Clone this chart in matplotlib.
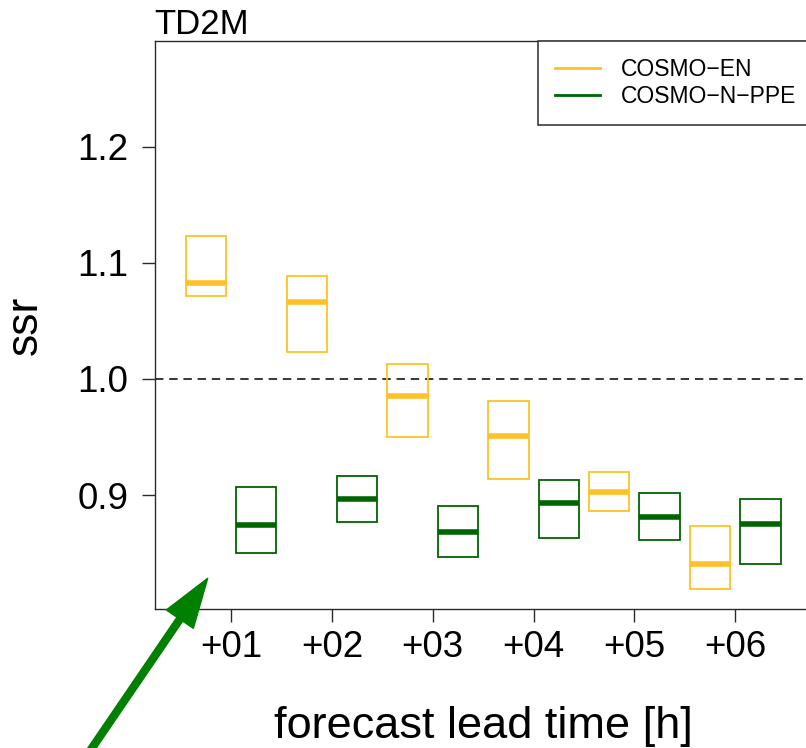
import matplotlib
matplotlib.use("Agg")
import matplotlib.pyplot as plt
from matplotlib.patches import FancyArrowPatch

plt.rcParams['font.family'] = ['Liberation Sans', 'DejaVu Sans']

# spread-skill ratio per lead time: box = range, bar = median
lead = [1, 2, 3, 4, 5, 6]
lead_labels = ['+01', '+02', '+03', '+04', '+05', '+06']

en_lo = [1.071, 1.023, 0.950, 0.914, 0.886, 0.819]
en_med = [1.083, 1.066, 0.985, 0.951, 0.903, 0.841]
en_hi = [1.123, 1.089, 1.013, 0.981, 0.920, 0.873]

ppe_lo = [0.850, 0.877, 0.847, 0.863, 0.861, 0.841]
ppe_med = [0.874, 0.897, 0.868, 0.893, 0.881, 0.875]
ppe_hi = [0.907, 0.916, 0.891, 0.913, 0.902, 0.897]

y_ticks = [0.9, 1.0, 1.1, 1.2]

col_en = '#FFC125'
col_ppe = '#006400'
axcol = '#2a2a2a'

fig = plt.figure(figsize=(8.06, 7.48), dpi=100)
ax = fig.add_axes([0.1917, 0.1852, 0.8155, 0.76])

shift = 0.25
bw = 0.40


def draw_boxes(off, lo, med, hi, col):
    xs = [x + off for x in lead]
    ax.bar(xs, [h - l for h, l in zip(hi, lo)], width=bw, bottom=lo,
           fill=False, edgecolor=col, linewidth=1.3, zorder=3)
    ax.hlines(med, [x - bw / 2 for x in xs], [x + bw / 2 for x in xs],
              colors=col, linewidth=4, zorder=4)


draw_boxes(-shift, en_lo, en_med, en_hi, col_en)
draw_boxes(shift, ppe_lo, ppe_med, ppe_hi, col_ppe)

ax.axhline(1.0, color='black', lw=1.1, linestyle=(0, (5.5, 3.8)), zorder=2)

ax.set_xlim(0.24, 6.76)
ax.set_ylim(0.8015, 1.291)
ax.set_xticks(lead)
ax.set_xticklabels(lead_labels)
ax.set_yticks(y_ticks)
ax.set_yticklabels([f'{v:.1f}' for v in y_ticks])

ax.tick_params(axis='both', direction='out', length=9.7, width=1.0,
               color=axcol, labelsize=26.5)
ax.tick_params(axis='x', pad=5)
ax.tick_params(axis='y', pad=9)
for s in ax.spines.values():
    s.set_color(axcol)
    s.set_linewidth(1.0)

ax.set_xlabel('forecast lead time [h]', fontsize=32.5, va='baseline')
ax.xaxis.set_label_coords(0.5, -0.226)
ax.set_ylabel('ssr', fontsize=32, va='center')
ax.yaxis.set_label_coords(-0.197, 0.5)

ax.set_title('TD2M', loc='left', fontsize=25, pad=4.5)

h_en, = ax.plot([], [], color=col_en, lw=2, label='COSMO−EN')
h_ppe, = ax.plot([], [], color=col_ppe, lw=2, label='COSMO−N−PPE')
leg = ax.legend(handles=[h_en, h_ppe], loc='upper left',
                bbox_to_anchor=(537.7 / 806, 1 - 41 / 748),
                bbox_transform=fig.transFigure, borderaxespad=0,
                fontsize=16.5, fancybox=False, framealpha=1,
                edgecolor=axcol, borderpad=0.75, handlelength=1.96,
                handletextpad=0.9, labelspacing=0.15)
leg.get_frame().set_linewidth(1.1)

# pointer arrow at the lower left corner of the panel
arrow = FancyArrowPatch((85.2 / 806, -10 / 748), (207.7 / 806, 169.7 / 748),
                        transform=fig.transFigure,
                        arrowstyle='simple,head_length=35.6,head_width=23.5,tail_width=5',
                        mutation_scale=1, color='#008000', shrinkA=0, shrinkB=0,
                        clip_on=False, zorder=10)
fig.add_artist(arrow)

fig.savefig('out.png', dpi=100)
